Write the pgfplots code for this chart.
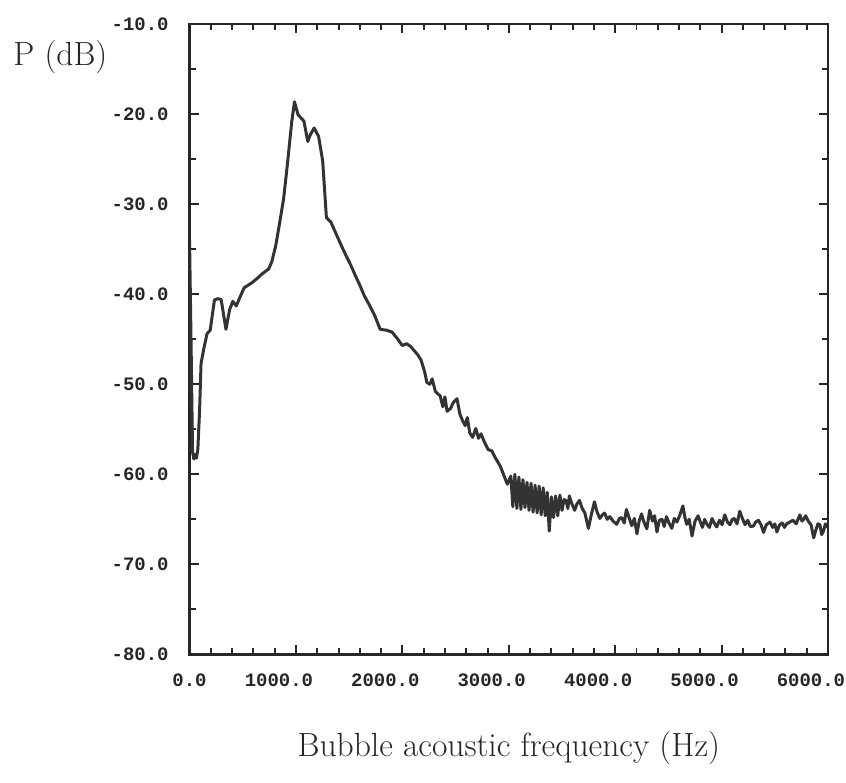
\documentclass[border=0pt]{standalone}
\usepackage{fontspec}
\setmonofont{Liberation Mono}
\usepackage{pgfplots}
\pgfplotsset{compat=1.18}
\newcommand{\dl}[1]{\makebox[0pt][r]{#1}.\makebox[0pt][l]{0}}
\begin{document}
\begin{tikzpicture}
\begin{axis}[
  name=ax,
  width=320pt, height=316pt, scale only axis,
  xmin=0, xmax=6000, ymin=-80, ymax=-10,
  xtick={0,1000,...,6000},
  xticklabels={\dl{0},\dl{1000},\dl{2000},\dl{3000},\dl{4000},\dl{5000},\dl{6000}},
  minor x tick num=4,
  ytick={-80,-70,...,-10},
  yticklabels={-80.0,-70.0,-60.0,-50.0,-40.0,-30.0,-20.0,-10.0},
  minor y tick num=1,
  tick align=inside,
  major tick length=4.5pt, minor tick length=3pt,
  axis line style={line width=1.2pt, black!85},
  every tick/.style={line width=1pt, black!85},
  ticklabel style={font=\fontsize{9.5}{11}\selectfont\ttfamily\bfseries, text=black!85},
  xticklabel style={yshift=-6pt},
  yticklabel style={xshift=-7pt},
  xlabel={Bubble acoustic frequency (Hz)},
  xlabel style={at={(axis description cs:0.5,0)}, anchor=north, yshift=-35pt, font=\fontsize{16.8}{20}\selectfont, text=black!85},
]
\addplot[line width=1.5pt, black!80, line join=round, no markers] coordinates {
(0,-34) (15,-46) (28,-57.5) (40,-58.3) (52,-57.8) (65,-58.2) (78,-57.2) (94,-53) (108,-47.7)
(135,-46.0) (164,-44.4) (194,-44.0) (234,-40.65) (265,-40.5) (297,-40.6) (342,-43.9)
(377,-41.7) (406,-40.8) (439,-41.3) (475,-40.3) (513,-39.3) (550,-39.0) (590,-38.7) (640,-38.2)
(682,-37.75) (744,-37.2) (773,-36.4) (810,-34.6) (843,-32.35) (884,-29.4) (922,-25.3)
(960,-20.9) (986,-18.65) (1020,-20.1) (1053,-20.5) (1075,-20.8) (1111,-23.05) (1135,-22.3)
(1171,-21.55) (1213,-22.5) (1251,-25.2) (1286,-31.5) (1328,-32.0) (1377,-33.3) (1430,-34.7)
(1476,-35.85) (1520,-36.9) (1560,-38.0) (1600,-39.0) (1643,-40.2) (1690,-41.2) (1741,-42.4)
(1791,-43.9) (1850,-44.0) (1902,-44.2) (1950,-44.9) (1999,-45.7) (2040,-45.5) (2077,-45.8)
(2142,-46.7) (2175,-47.3) (2209,-48.6) (2230,-49.8) (2258,-50.0) (2280,-49.4) (2310,-50.8)
(2355,-51.3) (2380,-52.5) (2400,-51.4) (2420,-53.0) (2452,-52.7) (2480,-52.0) (2513,-51.6)
(2540,-53.3) (2564,-54.0) (2590,-54.6) (2610,-53.7) (2633,-55.4) (2660,-55.9) (2690,-54.9)
(2715,-56.0) (2739,-55.5) (2770,-56.4) (2806,-57.25) (2840,-57.4) (2870,-58.1) (2920,-59.1)
(2986,-61.1)
(3019,-60.2) (3038,-63.6) (3057,-60.0) (3076,-63.8) (3095,-60.3) (3114,-63.9) (3133,-60.6)
(3152,-63.7) (3171,-60.9) (3190,-64.0) (3209,-61.0) (3228,-64.2) (3247,-61.2) (3266,-64.3)
(3285,-61.3) (3304,-64.5) (3323,-61.5) (3342,-64.6) (3361,-62.0) (3380,-66.3) (3400,-62.5)
(3420,-64.8) (3440,-62.4) (3460,-64.6) (3480,-62.3) (3500,-64.0)
(3520,-62.8) (3539,-62.95) (3555,-63.8) (3569,-62.4) (3590,-63.2) (3619,-64.0) (3640,-63.3)
(3664,-62.9) (3690,-63.8) (3715,-64.3) (3748,-66.0) (3775,-64.5) (3805,-63.05) (3830,-64.2)
(3856,-64.9) (3880,-64.5) (3900,-64.3) (3925,-65.0) (3949,-64.7) (3980,-65.2) (4014,-65.55)
(4040,-64.9) (4060,-64.8) (4085,-65.4) (4105,-63.9) (4130,-64.8) (4155,-65.7) (4180,-64.9)
(4204,-66.6) (4225,-65.2) (4247,-64.4) (4270,-65.3) (4297,-66.05) (4324,-64.0) (4350,-65.2)
(4370,-64.6) (4392,-66.4) (4415,-65.1) (4440,-65.0) (4460,-65.8) (4482,-64.7) (4505,-65.4)
(4532,-66.0) (4555,-64.9) (4580,-65.3) (4605,-64.6) (4636,-63.5) (4655,-64.8) (4672,-65.55)
(4695,-65.0) (4722,-66.85) (4750,-65.2) (4779,-64.6) (4800,-65.3) (4820,-65.9) (4840,-65.0)
(4860,-65.5) (4885,-65.9) (4910,-64.9) (4930,-65.4) (4954,-65.85) (4980,-65.1) (5005,-65.6)
(5029,-64.5) (5055,-65.3) (5079,-65.6) (5100,-65.0) (5120,-64.9) (5145,-65.5) (5170,-64.1)
(5195,-64.9) (5220,-65.6) (5245,-65.1) (5270,-65.8) (5298,-65.75) (5320,-65.3) (5345,-65.1)
(5370,-65.6) (5394,-66.45) (5420,-65.6) (5454,-65.3) (5480,-65.9) (5500,-65.5) (5519,-66.4)
(5545,-65.6) (5570,-65.4) (5590,-65.9) (5611,-65.5) (5640,-65.3) (5670,-65.1) (5700,-65.5)
(5735,-64.5) (5755,-65.2) (5770,-65.0) (5790,-64.6) (5814,-65.2) (5840,-65.6) (5865,-67.05)
(5885,-66.2) (5905,-65.5) (5924,-65.6) (5940,-66.7) (5957,-66.3) (5975,-65.5) (5995,-65.9)
};
\end{axis}
\node[anchor=base west, inner sep=0pt, font=\fontsize{16.8}{20}\selectfont, text=black!85]
  at ([xshift=-88.5pt,yshift=-21pt]ax.north west) {P (dB)};
\pgfresetboundingbox
\path[use as bounding box] ([xshift=-95pt,yshift=-64pt]ax.south west) rectangle ([xshift=9pt,yshift=12pt]ax.north east);
\end{tikzpicture}
\end{document}
